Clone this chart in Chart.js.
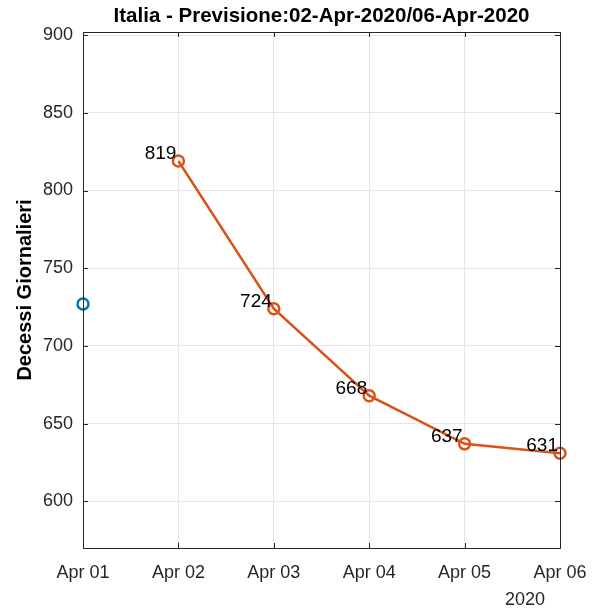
<!DOCTYPE html>
<html>
<head>
<meta charset="utf-8">
<script src="https://cdn.jsdelivr.net/npm/chart.js@4"></script>
<style>
  html, body { margin: 0; padding: 0; background: #fff; }
  #wrap { width: 595px; height: 609px; }
</style>
</head>
<body>
<div id="wrap"><canvas id="chart" width="595" height="609"></canvas></div>
<script>
const days = ["Apr 01", "Apr 02", "Apr 03", "Apr 04", "Apr 05", "Apr 06"];
const actual = [727, null, null, null, null, null];
const forecast = [null, 819, 724, 668, 637, 631];
const yTicks = [600, 650, 700, 750, 800, 850, 900];

const FONT = "'Liberation Sans', Arial, Helvetica, sans-serif";

// matlab-ish box, inner ticks, point labels, year label and title
const decor = {
  id: "decor",
  afterDraw(chart) {
    const ctx = chart.ctx;
    const a = chart.chartArea;
    const xs = chart.scales.x;
    const ys = chart.scales.y;
    ctx.save();
    ctx.strokeStyle = "#262626";
    ctx.lineWidth = 1;
    ctx.strokeRect(a.left + 0.5, a.top + 0.5, a.right - a.left, a.bottom - a.top);
    ctx.beginPath();
    days.forEach((d, i) => {
      const x = Math.round(xs.getPixelForValue(i)) + 0.5;
      ctx.moveTo(x, a.bottom); ctx.lineTo(x, a.bottom - 5);
      ctx.moveTo(x, a.top); ctx.lineTo(x, a.top + 5);
    });
    yTicks.forEach(v => {
      const y = Math.round(ys.getPixelForValue(v)) + 0.5;
      ctx.moveTo(a.left, y); ctx.lineTo(a.left + 5, y);
      ctx.moveTo(a.right, y); ctx.lineTo(a.right - 5, y);
    });
    ctx.stroke();

    // value labels next to forecast points
    ctx.fillStyle = "#000";
    ctx.font = "19px " + FONT;
    ctx.textAlign = "right";
    ctx.textBaseline = "alphabetic";
    const meta = chart.getDatasetMeta(1);
    meta.data.forEach((pt, i) => {
      if (forecast[i] == null) return;
      ctx.fillText(String(forecast[i]), pt.x - 2, pt.y - 2);
    });

    ctx.fillStyle = "#262626";
    ctx.font = "18px " + FONT;
    ctx.textAlign = "center";
    ctx.fillText("2020", xs.getPixelForValue(5) - 35, a.bottom + 57);

    ctx.fillStyle = "#000";
    ctx.font = "bold 20.5px " + FONT;
    ctx.fillText("Italia - Previsione:02-Apr-2020/06-Apr-2020", (a.left + a.right) / 2, 22);
    ctx.restore();
  }
};

new Chart(document.getElementById("chart"), {
  type: "line",
  data: {
    labels: days,
    datasets: [
      {
        label: "Dati",
        data: actual,
        borderColor: "#0072BD",
        backgroundColor: "rgba(0,0,0,0)",
        pointRadius: 5.5,
        pointBorderWidth: 2.5,
        showLine: false
      },
      {
        label: "Previsione",
        data: forecast,
        borderColor: "#D95319",
        backgroundColor: "rgba(0,0,0,0)",
        borderWidth: 2.5,
        pointRadius: 5.5,
        pointBorderWidth: 2.5,
        tension: 0
      }
    ]
  },
  options: {
    responsive: false,
    animation: false,
    layout: { padding: { top: 32, right: 35, left: 0, bottom: 0 } },
    plugins: {
      legend: { display: false },
      tooltip: { enabled: false }
    },
    scales: {
      x: {
        type: "category",
        offset: false,
        grid: { color: "#e6e6e6", drawTicks: false },
        border: { color: "#262626" },
        ticks: { color: "#262626", font: { family: FONT, size: 18 }, padding: 14, maxRotation: 0, autoSkip: false },
        afterFit: s => { s.height = 61; s.paddingLeft = 0; s.paddingRight = 0; }
      },
      y: {
        min: 570,
        max: 902,
        afterBuildTicks: s => { s.ticks = yTicks.map(v => ({ value: v })); },
        grid: { color: "#e6e6e6", drawTicks: false },
        border: { color: "#262626" },
        ticks: { color: "#262626", font: { family: FONT, size: 18 }, padding: 10 },
        title: { display: true, text: "Decessi Giornalieri", color: "#000", padding: { top: 13, bottom: 0 }, font: { family: FONT, size: 20, weight: "bold" } },
        afterFit: s => { s.width = 83; }
      }
    }
  },
  plugins: [decor]
});
</script>
</body>
</html>
